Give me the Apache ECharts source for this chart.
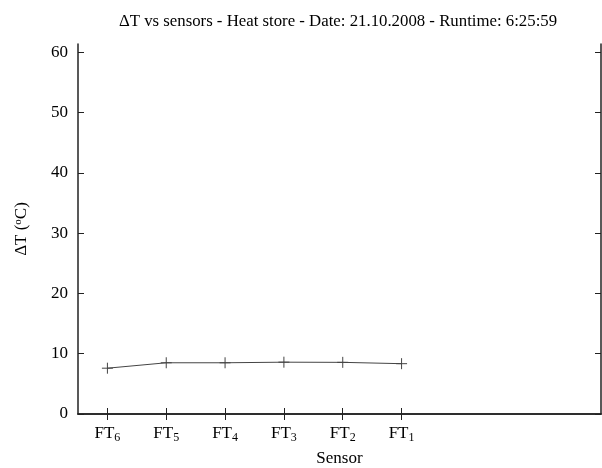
<!DOCTYPE html>
<html><head><meta charset="utf-8">
<script src="https://cdn.jsdelivr.net/npm/echarts@6/dist/echarts.min.js"></script>
<style>html,body{margin:0;padding:0;background:#fff}#c{width:602px;height:468px}</style>
</head><body><div id="c"></div>
<script>
const sensorSubs = ['6', '5', '4', '3', '2', '1'];
const sensorPos = [1, 2, 3, 4, 5, 6];
const deltaT = [7.6, 8.5, 8.5, 8.6, 8.57, 8.35];
const yTicks = [0, 10, 20, 30, 40, 50, 60];
const titleText = 'ΔT vs sensors - Heat store - Date: 21.10.2008 - Runtime: 6:25:59';

const FONT = 'Liberation Serif';
const ink = '#222';
const chart = echarts.init(document.getElementById('c'));
const plusPath = 'path://M0,5L10,5M5,0L5,10';

chart.setOption({
  animation: false,
  title: {
    text: titleText, left: 333, top: 8, textAlign: 'center',
    textStyle: { fontFamily: FONT, fontSize: 16.8, fontWeight: 'normal', color: '#000' }
  },
  grid: { left: 78, right: 1, top: 44, bottom: 54, outerBoundsMode: 'none', containLabel: false },
  xAxis: [{
    type: 'value', min: 0.5, max: 9.39, position: 'bottom',
    name: 'Sensor', nameLocation: 'middle', nameGap: 36,
    nameTextStyle: { fontFamily: FONT, fontSize: 17, color: '#000' },
    axisLine: { show: true, lineStyle: { color: ink, width: 1.5 } },
    axisTick: { show: true, inside: true, length: 6, customValues: sensorPos, lineStyle: { color: ink } },
    axisLabel: {
      customValues: sensorPos, margin: 10,
      formatter: v => '{a|FT}{s|' + sensorSubs[sensorPos.indexOf(v)] + '}',
      rich: {
        a: { fontFamily: FONT, fontSize: 17, color: '#000' },
        s: { fontFamily: FONT, fontSize: 12, color: '#000', verticalAlign: 'bottom', padding: [8, 0, 0, 0] }
      }
    },
    splitLine: { show: false }
  }, {
    type: 'value', min: 0.5, max: 9.39, position: 'top',
    axisLine: { show: true, lineStyle: { color: ink, width: 1.5 } },
    axisTick: { show: true, inside: true, length: 6, customValues: sensorPos, lineStyle: { color: ink } },
    axisLabel: { show: false },
    splitLine: { show: false }
  }],
  yAxis: [{
    type: 'value', min: 0, max: 61.4, position: 'left',
    name: '{a|ΔT (}{s|o}{a|C)}', nameLocation: 'middle', nameGap: 47, nameRotate: 90,
    nameTextStyle: {
      rich: {
        a: { fontFamily: FONT, fontSize: 17, color: '#000' },
        s: { fontFamily: FONT, fontSize: 11, color: '#000', verticalAlign: 'top', padding: [0, 0, 7, 0] }
      }
    },
    axisLine: { show: true, lineStyle: { color: ink, width: 1.5 } },
    axisTick: { show: true, inside: true, length: 6, customValues: yTicks, lineStyle: { color: ink } },
    axisLabel: { customValues: yTicks, margin: 10, fontFamily: FONT, fontSize: 17, color: '#000' },
    splitLine: { show: false }
  }, {
    type: 'value', min: 0, max: 61.4, position: 'right',
    axisLine: { show: true, lineStyle: { color: ink, width: 1.5 } },
    axisTick: { show: true, inside: true, length: 6, customValues: yTicks, lineStyle: { color: ink } },
    axisLabel: { show: false },
    splitLine: { show: false }
  }],
  series: [{
    type: 'line', xAxisIndex: 0, yAxisIndex: 0,
    data: sensorPos.map((p, i) => [p, deltaT[i]]),
    symbol: plusPath, symbolSize: 11,
    itemStyle: { color: 'none', borderColor: '#444', borderWidth: 1 },
    lineStyle: { color: '#444', width: 1 }
  }]
});
</script></body></html>
